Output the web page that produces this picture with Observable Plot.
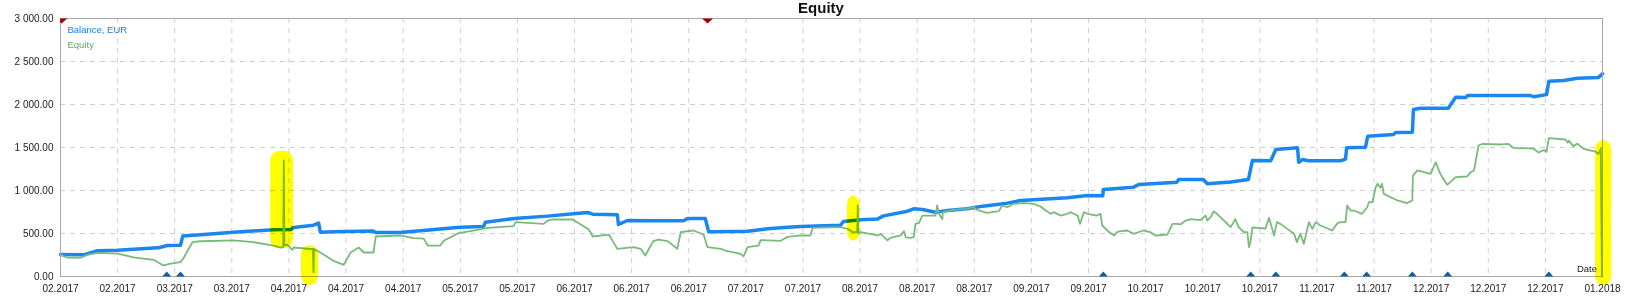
<!DOCTYPE html>
<html><head><meta charset="utf-8">
<script src="https://cdn.jsdelivr.net/npm/d3@7"></script>
<script src="https://cdn.jsdelivr.net/npm/@observablehq/plot@0.6"></script>
<style>html,body{margin:0;padding:0;background:#fff;overflow:hidden}</style>
</head><body><div id="chart"></div>
<script>
// x positions are in "tick units" (0 = first date label, 27 = last)
const xTickLabels = ["02.2017","02.2017","03.2017","03.2017","04.2017","04.2017","04.2017","05.2017","05.2017","06.2017","06.2017","06.2017","07.2017","07.2017","08.2017","08.2017","08.2017","09.2017","09.2017","10.2017","10.2017","10.2017","11.2017","11.2017","12.2017","12.2017","12.2017","01.2018"];
const yTicks = [0,500,1000,1500,2000,2500,3000];
const yTickLabels = ["0.00","500.00","1 000.00","1 500.00","2 000.00","2 500.00","3 000.00"];

const balanceX = [0,0.40,0.65,1.00,1.70,1.75,1.87,2.10,2.14,2.45,3.03,3.73,4.03,4.08,4.43,4.52,4.55,4.78,5.46,5.52,5.95,7.00,7.41,7.44,8.00,8.53,8.98,9.23,9.32,9.75,9.77,9.93,10.33,10.91,10.98,11.29,11.35,11.78,12.03,12.38,12.73,12.96,13.66,13.71,14.01,14.31,14.41,14.83,14.94,15.09,15.32,15.53,15.88,16.11,16.58,16.81,17.63,17.98,18.25,18.26,18.79,18.88,19.55,19.58,20.01,20.08,20.49,20.80,20.87,21.19,21.28,21.66,21.68,21.75,21.85,22.41,22.50,22.52,22.85,22.89,23.34,23.38,23.67,23.69,23.81,24.30,24.43,24.60,24.64,25.74,25.79,26.02,26.06,26.32,26.56,26.93,27.00];
const balanceY = [256,252,300,305,333,340,360,362,470,485,515,543,547,570,597,620,515,520,530,512,512,574,582,632,678,702,729,744,725,717,605,651,647,647,674,674,519,524,527,554,574,581,597,640,659,670,705,759,787,780,748,767,787,814,853,884,915,942,938,1012,1039,1070,1097,1128,1128,1078,1100,1128,1349,1345,1477,1496,1329,1360,1345,1345,1365,1496,1504,1632,1651,1675,1678,1942,1957,1957,2085,2080,2105,2105,2090,2115,2271,2279,2306,2315,2357];

const equityX = [0,0.12,0.35,0.47,0.65,1.00,1.17,1.28,1.63,1.80,1.93,2.10,2.15,2.31,2.45,3.03,3.38,3.73,3.85,3.90,3.91,3.92,3.97,4.06,4.08,4.38,4.42,4.43,4.44,4.55,4.78,4.96,5.08,5.22,5.31,5.48,5.52,5.95,6.18,6.36,6.43,6.65,6.71,6.97,7.30,7.48,7.93,7.97,8.46,8.53,8.61,8.97,9.11,9.25,9.32,9.60,9.67,9.75,10.03,10.16,10.24,10.38,10.47,10.63,10.80,10.86,11.08,11.26,11.33,11.56,11.64,11.91,11.96,12.03,12.22,12.26,12.61,12.73,12.96,13.13,13.17,13.66,13.78,13.87,13.95,13.96,13.97,14.01,14.31,
  14.36,14.48,14.53,14.71,14.77,14.80,14.88,14.94,14.97,15.03,15.09,15.32,15.35,15.38,15.44,15.45,15.53,15.64,15.88,15.99,16.05,16.22,16.43,16.49,16.58,16.69,16.87,17.04,17.16,17.25,17.34,17.39,17.51,17.63,17.69,17.74,17.81,17.85,17.92,17.98,18.15,18.21,18.24,18.36,18.45,18.50,18.56,18.68,18.79,18.96,19.08,19.17,19.38,19.47,19.55,
  19.61,19.70,19.79,19.96,20.05,20.08,20.14,20.19,20.25,20.49,20.57,20.63,20.72,20.78,20.81,20.84,20.87,21.10,21.16,21.25,21.30,21.36,21.48,21.60,21.65,21.71,21.77,21.86,21.92,21.98,22.06,22.27,22.30,22.36,22.41,22.50,22.53,22.59,22.65,22.79,22.88,22.91,22.97,23.03,23.06,23.11,23.14,23.17,23.41,23.58,23.67,23.68,23.76,23.99,24.08,24.16,24.28,24.43,24.63,24.69,24.75,24.83,
  24.90,25.21,25.35,25.44,25.79,25.88,25.97,26.02,26.06,26.35,26.39,26.41,26.49,26.56,26.67,26.88,26.93,26.97,26.99];
const equityY = [252,220,218,252,275,265,240,222,194,128,150,167,210,399,410,419,399,360,337,340,1349,360,370,310,337,320,320,50,320,279,182,136,280,337,279,279,465,477,446,440,360,360,415,504,542,566,585,632,612,651,663,663,605,547,465,488,411,322,341,322,244,411,430,411,322,515,535,488,341,322,302,264,233,341,360,423,415,461,477,477,566,574,554,516,516,826,500,516,477,
  496,419,450,477,527,454,450,458,612,620,709,709,826,729,667,748,760,775,787,806,775,740,760,825,806,845,853,845,814,767,729,748,709,729,748,729,709,612,748,729,709,729,593,516,477,516,527,535,496,535,516,477,488,612,612,
  605,651,667,655,709,651,690,756,729,574,667,574,516,516,341,419,570,558,682,477,632,612,554,496,400,496,380,632,554,632,593,535,566,620,632,632,826,767,767,729,806,864,864,1039,1078,1031,1078,961,884,853,884,1174,1233,1194,1329,1194,1066,1155,1163,1213,1233,1523,
  1543,1535,1543,1496,1488,1442,1470,1450,1609,1593,1555,1580,1516,1545,1484,1453,1422,1488,0];

// deal markers
const withdrawalMarks = [0.02, 11.33];
const depositMarks = [1.86, 2.10, 18.26, 20.84, 21.28, 22.48, 22.87, 23.67, 24.29, 26.06];

// yellow highlighter annotations (tick units / EUR)
const hlX1 = [3.68, 4.22, 13.78, 26.88];
const hlX2 = [4.08, 4.52, 14.00, 27.16];
const hlY1 = [330, -105, 410, -105];
const hlY2 = [1455, 360, 935, 1580];

const balance = balanceX.map((x, i) => ({x, y: balanceY[i]}));
const equity = equityX.map((x, i) => ({x, y: equityY[i]}));
const highlights = hlX1.map((x1, i) => ({x1, x2: hlX2[i], y1: hlY1[i], y2: hlY2[i]}));
const xTicks = d3.range(xTickLabels.length);

const upTri = {draw(ctx) {ctx.moveTo(-4.5, 0); ctx.lineTo(4.5, 0); ctx.lineTo(0, -5); ctx.closePath();}};
const downTri = {draw(ctx) {ctx.moveTo(-5.5, 0); ctx.lineTo(5.5, 0); ctx.lineTo(0, 5); ctx.closePath();}};

const chart = Plot.plot({
  width: 1631, height: 301,
  marginLeft: 60, marginRight: 29, marginTop: 18, marginBottom: 25,
  style: {fontFamily: "'Liberation Sans', Arial, sans-serif", fontSize: "10px", color: "#222", background: "#fff"},
  x: {domain: [0, 27]},
  y: {domain: [0, 3000]},
  marks: [
    Plot.gridX({ticks: xTicks, stroke: "#cfcfcf", strokeOpacity: 1, strokeDasharray: "5,5"}),
    Plot.gridY({ticks: yTicks, stroke: "#cfcfcf", strokeOpacity: 1, strokeDasharray: "5,5"}),
    Plot.axisX({ticks: xTicks, tickSize: 0, tickPadding: 8, tickFormat: i => xTickLabels[i], label: null}),
    Plot.axisY({ticks: yTicks, tickSize: 0, tickPadding: 7, tickFormat: d => yTickLabels[yTicks.indexOf(d)], label: null}),
    Plot.line(balance, {x: "x", y: "y", stroke: "#1a86f2", strokeWidth: 3.5, strokeLinejoin: "round"}),
    Plot.line(equity, {x: "x", y: "y", stroke: "#7aba7a", strokeWidth: 1.8, strokeLinejoin: "round"}),
    Plot.frame({stroke: "#a9a9a9"}),
    Plot.dot(withdrawalMarks, {x: d => d, y: () => 3000, symbol: downTri, fill: "#a50000", stroke: "none", clip: true}),
    Plot.dot(depositMarks, {x: d => d, y: () => 0, symbol: upTri, fill: "#0b5fa5", stroke: "none"}),
    Plot.text(["Balance, EUR"], {frameAnchor: "top-left", textAnchor: "start", lineAnchor: "top", dx: 7, dy: 8, fill: "#1a7fe8", fontSize: 9.5}),
    Plot.text(["Equity"], {frameAnchor: "top-left", textAnchor: "start", lineAnchor: "top", dx: 7, dy: 22.7, fill: "#5fa85f", fontSize: 9.5}),
    Plot.text(["Date"], {frameAnchor: "bottom-right", textAnchor: "end", lineAnchor: "top", dx: -5.5, dy: -11.7, fill: "#222", fontSize: 9.5}),
    Plot.rect(highlights, {x1: "x1", x2: "x2", y1: "y1", y2: "y2", fill: "#ffff00", rx: 9, mixBlendMode: "multiply"})
  ]
});

d3.select(chart).append("text")
  .attr("x", 821).attr("y", 12.5)
  .attr("text-anchor", "middle")
  .attr("font-weight", "bold").attr("font-size", 15)
  .attr("fill", "#111")
  .text("Equity");

document.getElementById("chart").append(chart);
</script>
</body></html>
